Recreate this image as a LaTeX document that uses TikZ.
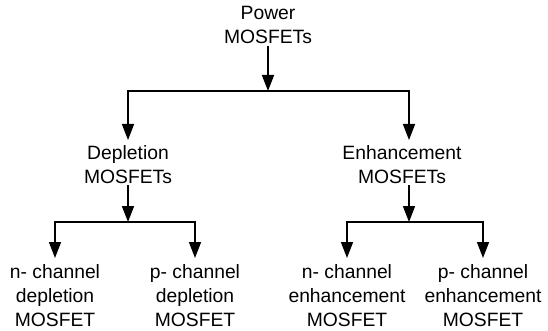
\documentclass[tikz,border=0pt]{standalone}
\usepackage{fontspec}
\setmainfont{Liberation Sans}
\usepackage{tikz}
\usetikzlibrary{arrows.meta,positioning,calc}
\tikzset{
  caja/.style={align=center, inner sep=1.5pt, anchor=north, font=\fontsize{19.3}{24}\selectfont},
  fl/.style={-{Triangle[length=16pt, width=12pt]}, line width=1.6pt},
  rama/.style={fl, shorten >=3.5pt},
  hoja/.style={fl, shorten >=5pt},
}

\begin{document}
\begin{tikzpicture}[x=1pt, y=-1pt]
  \useasboundingbox (0,0) rectangle (548,331);
  \node[caja] (power) at (268,5) {Power\\MOSFETs};
  \node[caja] (depl) at (128,143.5) {Depletion\\MOSFETs};
  \node[caja] (enh) at (402,143.5) {Enhancement\\MOSFETs};
  \node[caja] (ndep) at (55,263) {n- channel\\depletion\\MOSFET};
  \node[caja] (pdep) at (195,263) {p- channel\\depletion\\MOSFET};
  \node[caja] (nenh) at (347,263) {n- channel\\enhancement\\MOSFET};
  \node[caja] (penh) at (483,263) {p- channel\\enhancement\\MOSFET};
  \coordinate (j0) at (268,91);
  \coordinate (j1) at (128,222);
  \coordinate (j2) at (409,222);
  \draw[fl] (power) -- (j0);
  \draw[rama] (j0) -| (depl);
  \draw[rama] (j0) -| ([xshift=7pt]enh.north);
  \draw[fl] (depl) -- (j1);
  \draw[hoja] (j1) -| (ndep);
  \draw[hoja] (j1) -| (pdep);
  \draw[fl] ([xshift=7pt]enh.south) -- (j2);
  \draw[hoja] (j2) -| (nenh);
  \draw[hoja] (j2) -| (penh);
\end{tikzpicture}
\end{document}
